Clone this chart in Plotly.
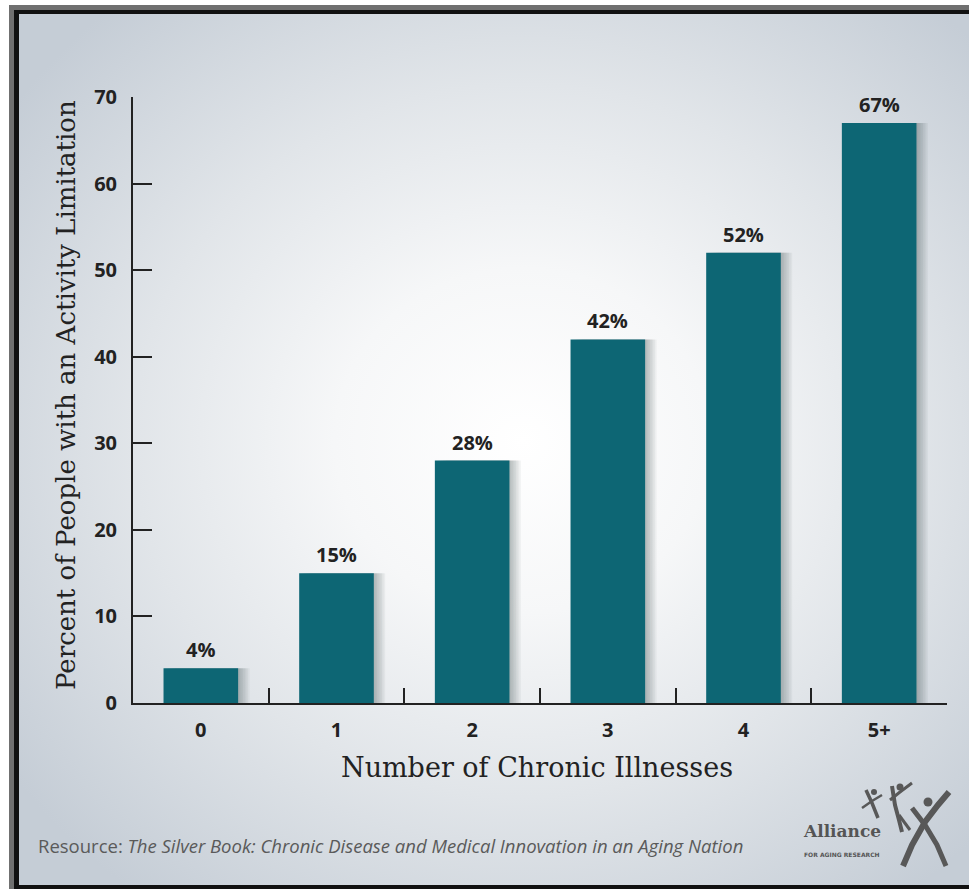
import base64
import plotly.graph_objects as go

# ---------------- data ----------------
categories = ["0", "1", "2", "3", "4", "5+"]
values = [4, 15, 28, 42, 52, 67]
value_labels = ["4%", "15%", "28%", "42%", "52%", "67%"]
y_ticks = [0, 10, 20, 30, 40, 50, 60, 70]

x_title = "Number of Chronic Illnesses"
y_title = "Percent of People with an Activity Limitation"
footer = "Resource: <i>The Silver Book: Chronic Disease and Medical Innovation in an Aging Nation</i>"

# ---------------- geometry ----------------
W, H = 969, 889
L, R, T, B = 133, 22, 97, 186
PW = W - L - R
PH = H - T - B

def px(x):
    return (x - L) / PW

def py(y):
    return (H - B - y) / PH

BAR = "#0d6674"
INK = "#222222"

# background radial gradient (decorative)
svg = f'''<svg xmlns="http://www.w3.org/2000/svg" width="{W}" height="{H}" viewBox="0 0 {W} {H}">
<defs><radialGradient id="g" cx="0.53" cy="0.49" r="0.66">
<stop offset="0" stop-color="#ffffff"/>
<stop offset="0.30" stop-color="#f6f7f8"/>
<stop offset="0.62" stop-color="#e1e5e9"/>
<stop offset="1" stop-color="#c5cdd6"/>
</radialGradient></defs>
<rect x="0" y="0" width="{W}" height="{H}" fill="url(#g)"/>
</svg>'''
svg_uri = "data:image/svg+xml;base64," + base64.b64encode(svg.encode()).decode()

fig = go.Figure()

# soft drop shadows behind bars
for i in range(1, 8):
    fig.add_trace(go.Bar(
        x=categories, y=values,
        width=0.55, offset=-0.275 + 0.012 * i,
        marker=dict(color="rgba(40,50,60,0.05)", line=dict(width=0)),
        hoverinfo="skip", showlegend=False,
    ))

fig.add_trace(go.Bar(
    x=categories, y=values,
    width=0.55,
    marker=dict(color=BAR, line=dict(width=0)),
    showlegend=False,
))

annotations = []
for c, v, lab in zip(categories, values, value_labels):
    annotations.append(dict(
        x=c, y=v, xref="x", yref="y", text=lab, showarrow=False,
        yanchor="bottom", yshift=3,
        font=dict(family="Open Sans", size=20, color=INK, weight="bold"),
    ))

annotations.append(dict(
    x=px(537), y=py(767), xref="paper", yref="paper", text=x_title,
    showarrow=False, xanchor="center", yanchor="middle",
    font=dict(family="DejaVu Serif", size=27, color=INK),
))
annotations.append(dict(
    x=px(66), y=py(395), xref="paper", yref="paper", text=y_title,
    showarrow=False, xanchor="center", yanchor="middle", textangle=-90,
    font=dict(family="DejaVu Serif", size=26, color=INK),
))
annotations.append(dict(
    x=px(36), y=py(845), xref="paper", yref="paper", text=footer,
    showarrow=False, xanchor="left", yanchor="middle",
    font=dict(family="Open Sans", size=18.5, color="#5a5a5a"),
))
annotations.append(dict(
    x=px(842), y=py(831), xref="paper", yref="paper", text="<b>Alliance</b>",
    showarrow=False, xanchor="center", yanchor="middle",
    font=dict(family="DejaVu Serif", size=17, color="#555555"),
))
annotations.append(dict(
    x=px(842), y=py(854), xref="paper", yref="paper", text="<b>FOR AGING RESEARCH</b>",
    showarrow=False, xanchor="center", yanchor="middle",
    font=dict(family="DejaVu Sans", size=6, color="#555555"),
))

shapes = []

def rect(x0, y0, x1, y1, color):
    shapes.append(dict(type="rect", xref="paper", yref="paper",
                       x0=px(x0), x1=px(x1), y0=py(y0), y1=py(y1),
                       fillcolor=color, line=dict(width=0), layer="above"))

# frame
rect(9, 5, 969, 10, "#707070")
rect(9, 5, 14, 889, "#707070")
rect(14, 10, 969, 14, "#111111")
rect(14, 10, 19, 889, "#111111")
rect(14, 885, 969, 889, "#111111")

# logo figures (decorative strokes)
def path(pts, width=4.5, color="#585858"):
    d = "M " + " L ".join(f"{px(x):.5f},{py(y):.5f}" for x, y in pts)
    shapes.append(dict(type="path", xref="paper", yref="paper", path=d,
                       line=dict(color=color, width=width), layer="above"))

def dot(x, y, r, color="#585858"):
    shapes.append(dict(type="circle", xref="paper", yref="paper",
                       x0=px(x - r), x1=px(x + r), y0=py(y - r), y1=py(y + r),
                       fillcolor=color, line=dict(width=0), layer="above"))

# big figure
path([(903, 866), (912, 845), (925, 822), (938, 805), (949, 792)], 6)
path([(912, 808), (925, 825), (937, 845), (946, 866)], 5)
dot(928, 802, 4.5)
# middle figure
path([(892, 786), (895, 805), (899, 820), (902, 832)], 4)
path([(890, 800), (900, 792), (912, 783)], 3)
path([(899, 815), (910, 830)], 3)
dot(900, 787, 3.5)
# small figure
path([(866, 790), (872, 803), (878, 818)], 3.5)
path([(862, 808), (872, 801), (882, 795)], 2.5)
dot(874, 792, 3)

fig.update_layout(
    width=W, height=H,
    margin=dict(l=L, r=R, t=T, b=B, pad=0),
    paper_bgcolor="white",
    plot_bgcolor="rgba(0,0,0,0)",
    barmode="overlay",
    bargap=0.45,
    images=[dict(source=svg_uri, xref="paper", yref="paper",
                 x=px(19), y=py(14), sizex=(W - 19) / PW, sizey=(885 - 14) / PH,
                 xanchor="left", yanchor="top", sizing="stretch", layer="below")],
    xaxis=dict(
        type="category", categoryorder="array", categoryarray=categories,
        range=[-0.5, 5.5],
        showline=True, linecolor=INK, linewidth=2,
        ticks="inside", tickson="boundaries", ticklen=15, tickwidth=1.5, tickcolor=INK,
        showgrid=False, zeroline=False,
        tickfont=dict(family="Open Sans", size=20, color=INK, weight="bold"),
        ticklabelstandoff=8,
        fixedrange=True,
    ),
    yaxis=dict(
        range=[0, 70], tickvals=y_ticks,
        showline=True, linecolor=INK, linewidth=2,
        ticks="inside", ticklen=19, tickwidth=2, tickcolor=INK,
        showgrid=False, zeroline=False,
        tickfont=dict(family="Open Sans", size=20, color=INK, weight="bold"),
        ticklabelstandoff=10,
        fixedrange=True,
    ),
    annotations=annotations,
    shapes=shapes,
)

fig.write_html("out.html")
